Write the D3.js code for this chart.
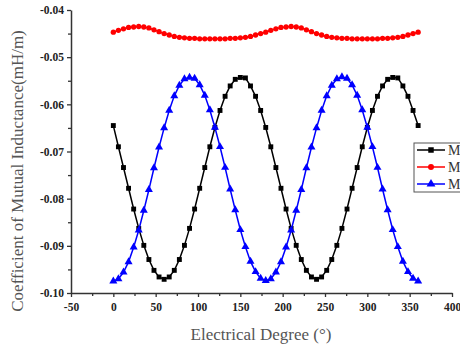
<!DOCTYPE html>
<html>
<head>
<meta charset="utf-8">
<script src="https://cdn.jsdelivr.net/npm/d3@7"></script>
<style>
  body { margin: 0; background: #fff; }
  svg { display: block; }
</style>
</head>
<body>
<script>

// electrical degree, 0..360 every 6 degrees
var degrees = [0,6,12,18,24,30,36,42,48,54,60,66,72,78,84,90,96,102,108,114,120,
    126,132,138,144,150,156,162,168,174,180,186,192,198,204,210,216,222,228,234,240,
    246,252,258,264,270,276,282,288,294,300,306,312,318,324,330,336,342,348,354,360];

// black squares
var mA = [-0.0645,-0.0690,-0.0734,-0.0778,-0.0822,-0.0863,-0.0899,-0.0929,-0.0952,-0.0966,-0.0971,
    -0.0966,-0.0952,-0.0929,-0.0899,-0.0863,-0.0822,-0.0778,-0.0734,-0.0690,-0.0649,
    -0.0613,-0.0583,-0.0561,-0.0547,-0.0543,-0.0544,-0.0561,-0.0583,-0.0613,-0.0649,
    -0.0690,-0.0734,-0.0778,-0.0822,-0.0863,-0.0899,-0.0929,-0.0952,-0.0966,-0.0971,
    -0.0966,-0.0952,-0.0929,-0.0899,-0.0863,-0.0822,-0.0778,-0.0734,-0.0690,-0.0649,
    -0.0613,-0.0583,-0.0561,-0.0547,-0.0543,-0.0544,-0.0561,-0.0583,-0.0613,-0.0645];

// red circles
var mB = [-0.0447,-0.0443,-0.0440,-0.0437,-0.0436,-0.0435,-0.0436,-0.0438,-0.0442,-0.0446,-0.0450,
    -0.0453,-0.0456,-0.0458,-0.0459,-0.0460,-0.0460,-0.0461,-0.0461,-0.0461,-0.0461,
    -0.0461,-0.0461,-0.0460,-0.0460,-0.0459,-0.0458,-0.0456,-0.0453,-0.0450,-0.0447,
    -0.0443,-0.0440,-0.0437,-0.0436,-0.0435,-0.0436,-0.0438,-0.0442,-0.0446,-0.0450,
    -0.0453,-0.0456,-0.0458,-0.0459,-0.0460,-0.0460,-0.0461,-0.0461,-0.0461,-0.0461,
    -0.0461,-0.0461,-0.0460,-0.0460,-0.0459,-0.0458,-0.0456,-0.0453,-0.0450,-0.0447];

// blue triangles
var mC = [-0.0975,-0.0970,-0.0956,-0.0934,-0.0903,-0.0867,-0.0825,-0.0781,-0.0735,-0.0691,-0.0650,
    -0.0613,-0.0582,-0.0560,-0.0546,-0.0543,-0.0545,-0.0559,-0.0581,-0.0612,-0.0649,
    -0.0690,-0.0734,-0.0780,-0.0824,-0.0866,-0.0902,-0.0933,-0.0955,-0.0969,-0.0974,
    -0.0970,-0.0956,-0.0934,-0.0903,-0.0867,-0.0825,-0.0781,-0.0735,-0.0691,-0.0650,
    -0.0613,-0.0582,-0.0560,-0.0546,-0.0542,-0.0545,-0.0559,-0.0581,-0.0612,-0.0649,
    -0.0690,-0.0734,-0.0780,-0.0824,-0.0866,-0.0902,-0.0933,-0.0955,-0.0969,-0.0975];

// legend labels (only the leading "M" is visible in the picture)
var seriesNames = ["M", "M", "M"];
var xTicks = [-50,0,50,100,150,200,250,300,350,400];
var yTicks = [-0.10,-0.09,-0.08,-0.07,-0.06,-0.05,-0.04];

function plot_it() {
    var width = 460, height = 349;

    var svg = d3.select("body").append("svg")
        .attr("width", width)
        .attr("height", height)
        .style("font-family", "'Liberation Serif', 'Times New Roman', serif");

    // scales
    var x = d3.scaleLinear().domain([-50, 400]).range([71, 452]);
    var y = d3.scaleLinear().domain([-0.10, -0.04]).range([293, 10]);

    var axisColor = "#333";

    // x axis
    var gx = svg.append("g").attr("transform", "translate(0," + 293 + ")")
        .call(d3.axisBottom(x).tickValues(xTicks).tickSize(4).tickSizeOuter(0)
            .tickFormat(function (d) { return d; }));
    // x minor ticks
    svg.append("g").attr("transform", "translate(0," + 293 + ")")
        .call(d3.axisBottom(x).tickValues(d3.range(-25, 400, 50)).tickSize(3).tickSizeOuter(0).tickFormat(""))
        .select(".domain").remove();

    // y axis
    var gy = svg.append("g").attr("transform", "translate(" + 71 + ",0)")
        .call(d3.axisLeft(y).tickValues(yTicks).tickSize(4).tickSizeOuter(0)
            .tickFormat(function (d) { return d.toFixed(2); }));
    svg.append("g").attr("transform", "translate(" + 71 + ",0)")
        .call(d3.axisLeft(y).tickValues([-0.095,-0.085,-0.075,-0.065,-0.055,-0.045]).tickSize(3).tickSizeOuter(0).tickFormat(""))
        .select(".domain").remove();

    svg.selectAll(".domain").attr("stroke", axisColor).attr("stroke-width", 1.5);
    svg.selectAll(".tick line").attr("stroke", axisColor).attr("stroke-width", 1.3);

    gx.selectAll("text").attr("font-family", "'Liberation Serif', serif").attr("font-weight", "bold")
        .attr("font-size", "11.5px").attr("fill", "#222").attr("dy", "0.95em");
    gy.selectAll("text").attr("font-family", "'Liberation Serif', serif").attr("font-weight", "bold")
        .attr("font-size", "11.5px").attr("fill", "#222");

    // axis titles
    svg.append("text").text("Electrical Degree (°)")
        .attr("x", 261).attr("y", 340)
        .attr("text-anchor", "middle")
        .attr("font-size", "17px").attr("fill", "#555");

    svg.append("text").text("Coefficient of Mutual Inductance(mH/m)")
        .attr("transform", "translate(" + 23 + "," + 171 + ") rotate(-90)")
        .attr("text-anchor", "middle")
        .attr("font-size", "17px").attr("fill", "#555");

    var series = [
        { name: seriesNames[0], values: mA, color: "#000000", shape: d3.symbolSquare, size: 24 },
        { name: seriesNames[1], values: mB, color: "#ff0000", shape: d3.symbolCircle, size: 22 },
        { name: seriesNames[2], values: mC, color: "#0000ff", shape: d3.symbolTriangle, size: 28 }
    ];

    var line = d3.line()
        .x(function (d) { return x(d[0]); })
        .y(function (d) { return y(d[1]); });

    series.forEach(function (s) {
        var pts = degrees.map(function (d, i) { return [d, s.values[i]]; });
        var g = svg.append("g");
        g.append("path")
            .attr("d", line(pts))
            .attr("fill", "none")
            .attr("stroke", s.color)
            .attr("stroke-width", 1.5);
        g.selectAll("path.pt").data(pts).enter().append("path")
            .attr("class", "pt")
            .attr("d", d3.symbol().type(s.shape).size(s.size))
            .attr("transform", function (d) { return "translate(" + x(d[0]) + "," + y(d[1]) + ")"; })
            .attr("fill", s.color);
    });

    // legend (box runs off the right edge as in the picture)
    var legend = svg.append("g").attr("transform", "translate(" + 414 + "," + 143 + ")");
    legend.append("rect")
        .attr("x", 0).attr("y", 0)
        .attr("width", 60).attr("height", 49)
        .attr("fill", "#fff")
        .attr("stroke", "#555").attr("stroke-width", 1);

    series.forEach(function (s, i) {
        var ly = 7 + 17 * i;
        legend.append("line")
            .attr("x1", 3).attr("x2", 31).attr("y1", ly).attr("y2", ly)
            .attr("stroke", s.color).attr("stroke-width", 1.5);
        legend.append("path")
            .attr("d", d3.symbol().type(s.shape).size(s.size + 6))
            .attr("transform", "translate(" + 17 + "," + ly + ")")
            .attr("fill", s.color);
        legend.append("text").text(s.name)
            .attr("x", 34).attr("y", ly + 5)
            .attr("font-size", "14px").attr("fill", "#333");
    });
}

plot_it();
</script>
</body>
</html>
